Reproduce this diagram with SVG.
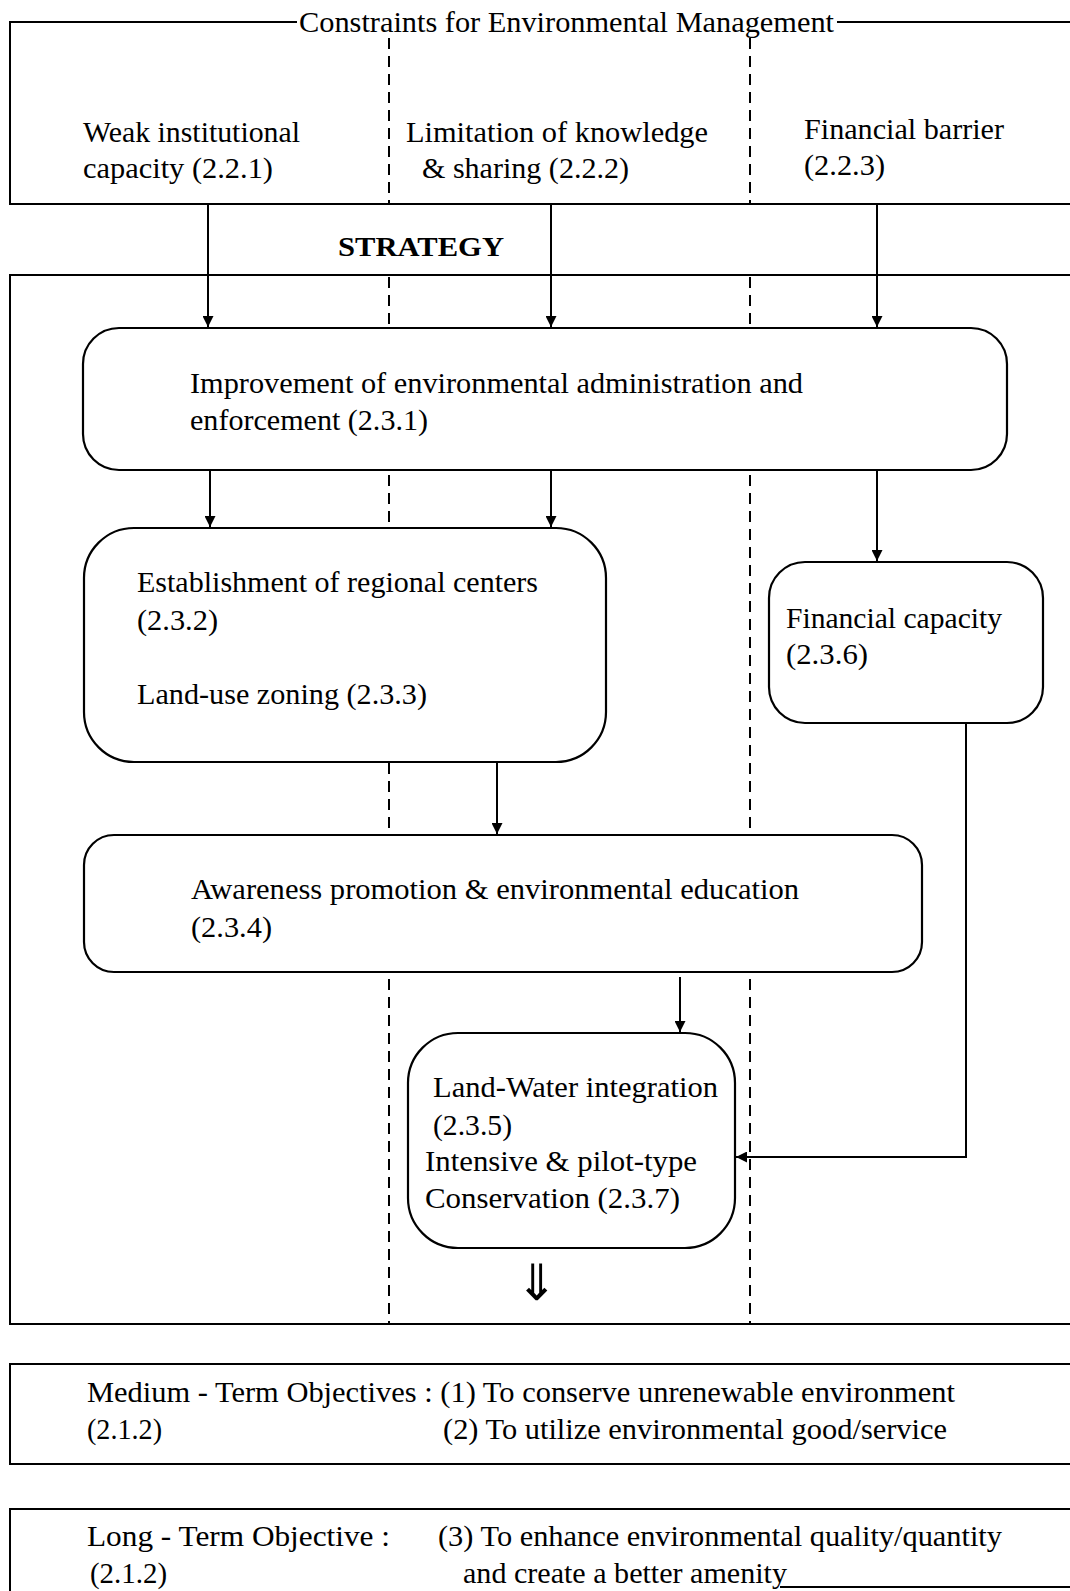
<svg xmlns="http://www.w3.org/2000/svg" width="1070" height="1591" viewBox="0 0 1070 1591">
<style>
  .frame { fill: none; stroke: #000; stroke-width: 2; }
  .box { fill: #fff; stroke: #000; stroke-width: 2.2; }
  .dash { fill: none; stroke: #000; stroke-width: 2; stroke-dasharray: 11 7; }
  .conn { fill: none; stroke: #000; stroke-width: 2; }
  text { font-family: "Liberation Serif", "Times New Roman", serif; font-size: 30px; fill: #000; }
  .title { font-size: 30px; }
  .bold { font-weight: bold; font-size: 27px; }
  .arrow2 { font-family: "DejaVu Sans", sans-serif; font-size: 50px; }
</style>
<defs>
  <marker id="ah" viewBox="0 0 10 10" refX="10" refY="5" markerWidth="6" markerHeight="5.5" markerUnits="strokeWidth" orient="auto">
    <path d="M0,0 L10,5 L0,10 z" fill="#000"/>
  </marker>
</defs>
<rect width="1070" height="1591" fill="#fff"/>

<g id="frames">
  <path class="frame" d="M297 22 H10 V204 H1075"/>
  <path class="frame" d="M837 22 H1075"/>
  <path class="frame" d="M1075 275 H10 V1324 H1075"/>
  <path class="frame" d="M1075 1364 H10 V1464 H1075"/>
  <path class="frame" d="M1075 1509 H10 V1595"/>
  <path class="frame" d="M780 1587 H1075"/>
</g>

<g id="dividers">
  <path class="dash" d="M389 38 V204 M389 277 V1324"/>
  <path class="dash" d="M750 38 V204 M750 277 V1324"/>
</g>

<g id="header">
  <text class="title" x="299" y="32" textLength="535" lengthAdjust="spacingAndGlyphs">Constraints  for Environmental Management</text>
</g>

<g id="constraint-1">
  <text x="83" y="142" textLength="217" lengthAdjust="spacingAndGlyphs">Weak institutional</text>
  <text x="83" y="178" textLength="190" lengthAdjust="spacingAndGlyphs">capacity (2.2.1)</text>
</g>
<g id="constraint-2">
  <text x="406" y="142" textLength="302" lengthAdjust="spacingAndGlyphs">Limitation of knowledge</text>
  <text x="422" y="178" textLength="207" lengthAdjust="spacingAndGlyphs">&amp; sharing (2.2.2)</text>
</g>
<g id="constraint-3">
  <text x="804" y="139" textLength="200" lengthAdjust="spacingAndGlyphs">Financial barrier</text>
  <text x="804" y="175" textLength="81" lengthAdjust="spacingAndGlyphs">(2.2.3)</text>
</g>

<g id="strategy-label">
  <text class="bold" x="338" y="256" textLength="166" lengthAdjust="spacingAndGlyphs">STRATEGY</text>
</g>

<g id="connectors">
  <path class="conn" d="M208 204 V327" marker-end="url(#ah)"/>
  <path class="conn" d="M551 204 V327" marker-end="url(#ah)"/>
  <path class="conn" d="M877 204 V327" marker-end="url(#ah)"/>
  <path class="conn" d="M210 471 V527" marker-end="url(#ah)"/>
  <path class="conn" d="M551 471 V527" marker-end="url(#ah)"/>
  <path class="conn" d="M877 471 V561" marker-end="url(#ah)"/>
  <path class="conn" d="M497 762 V834" marker-end="url(#ah)"/>
  <path class="conn" d="M680 977 V1032" marker-end="url(#ah)"/>
  <path class="conn" d="M966 723 V1157 H736" marker-end="url(#ah)"/>
</g>

<g id="node-2-3-1">
  <rect class="box" x="83" y="328" width="924" height="142" rx="36" ry="36"/>
  <text x="190" y="393" textLength="613" lengthAdjust="spacingAndGlyphs">Improvement of environmental administration and</text>
  <text x="190" y="430" textLength="238" lengthAdjust="spacingAndGlyphs">enforcement (2.3.1)</text>
</g>

<g id="node-2-3-2">
  <rect class="box" x="84" y="528" width="522" height="234" rx="50" ry="50"/>
  <text x="137" y="592" textLength="401" lengthAdjust="spacingAndGlyphs">Establishment of regional centers</text>
  <text x="137" y="630" textLength="81" lengthAdjust="spacingAndGlyphs">(2.3.2)</text>
  <text x="137" y="704" textLength="290" lengthAdjust="spacingAndGlyphs">Land-use zoning (2.3.3)</text>
</g>

<g id="node-2-3-6">
  <rect class="box" x="769" y="562" width="274" height="161" rx="36" ry="36"/>
  <text x="786" y="628" textLength="216" lengthAdjust="spacingAndGlyphs">Financial capacity</text>
  <text x="786" y="664" textLength="82" lengthAdjust="spacingAndGlyphs">(2.3.6)</text>
</g>

<g id="node-2-3-4">
  <rect class="box" x="84" y="835" width="838" height="137" rx="30" ry="30"/>
  <text x="191" y="899" textLength="608" lengthAdjust="spacingAndGlyphs">Awareness promotion &amp; environmental education</text>
  <text x="191" y="937" textLength="81" lengthAdjust="spacingAndGlyphs">(2.3.4)</text>
</g>

<g id="node-2-3-5">
  <rect class="box" x="408" y="1033" width="327" height="215" rx="50" ry="50"/>
  <text x="433" y="1097" textLength="285" lengthAdjust="spacingAndGlyphs">Land-Water integration</text>
  <text x="433" y="1135" textLength="79" lengthAdjust="spacingAndGlyphs">(2.3.5)</text>
  <text x="425" y="1171" textLength="272" lengthAdjust="spacingAndGlyphs">Intensive &amp; pilot-type</text>
  <text x="425" y="1208" textLength="255" lengthAdjust="spacingAndGlyphs">Conservation (2.3.7)</text>
</g>

<g id="down-arrow">
  <text class="arrow2" x="537" y="1300" text-anchor="middle">⇓</text>
</g>

<g id="medium-term">
  <text x="87" y="1402" textLength="868" lengthAdjust="spacingAndGlyphs">Medium - Term Objectives : (1) To conserve unrenewable environment</text>
  <text x="87" y="1439" textLength="75" lengthAdjust="spacingAndGlyphs">(2.1.2)</text>
  <text x="443" y="1439" textLength="504" lengthAdjust="spacingAndGlyphs">(2) To utilize environmental good/service</text>
</g>

<g id="long-term">
  <text x="87" y="1546" textLength="303" lengthAdjust="spacingAndGlyphs">Long - Term Objective  :</text>
  <text x="90" y="1583" textLength="77" lengthAdjust="spacingAndGlyphs">(2.1.2)</text>
  <text x="438" y="1546" textLength="564" lengthAdjust="spacingAndGlyphs">(3) To enhance environmental quality/quantity</text>
  <text x="463" y="1583" textLength="324" lengthAdjust="spacingAndGlyphs">and create a better amenity</text>
</g>
</svg>
